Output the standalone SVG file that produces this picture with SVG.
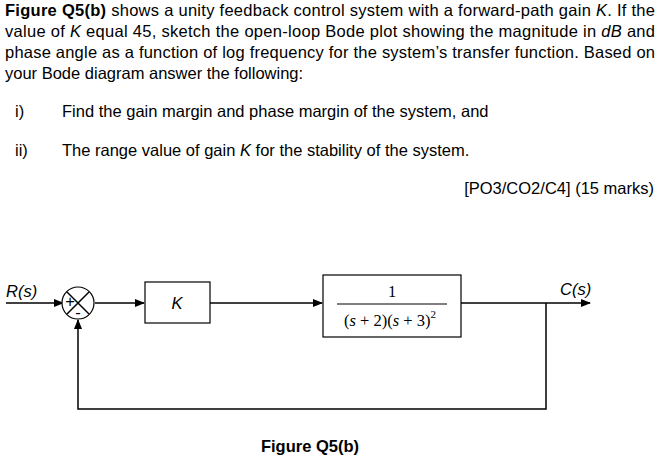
<svg xmlns="http://www.w3.org/2000/svg" width="660" height="461" viewBox="0 0 660 461">
<style>
text{font-family:"Liberation Sans",Arial,sans-serif;font-size:16.5px;fill:#000}
.ser{font-family:"Liberation Serif","Times New Roman",serif}
.ln{stroke:#000;stroke-width:1.5;fill:none}
.bx{stroke:#000;stroke-width:1.2;fill:#fff}
</style>
<defs><marker id="a" markerWidth="10" markerHeight="8" refX="9" refY="4" orient="auto" markerUnits="userSpaceOnUse"><path d="M0,0L10,4L0,8z" fill="#000"/></marker></defs>
<g id="question">
<text x="5" y="16" textLength="650" lengthAdjust="spacing"><tspan font-weight="bold">Figure Q5(b)</tspan> shows a unity feedback control system with a forward-path gain <tspan font-style="italic">K</tspan>. If the</text>
<text x="5" y="37" textLength="650" lengthAdjust="spacing">value of <tspan font-style="italic">K</tspan> equal 45, sketch the open-loop Bode plot showing the magnitude in <tspan font-style="italic">dB</tspan> and</text>
<text x="5" y="58" textLength="650" lengthAdjust="spacing">phase angle as a function of log frequency for the system’s transfer function. Based on</text>
<text x="5" y="79">your Bode diagram answer the following:</text>
<text x="15" y="117">i)</text>
<text x="62" y="117">Find the gain margin and phase margin of the system, and</text>
<text x="15" y="156">ii)</text>
<text x="62" y="156">The range value of gain <tspan font-style="italic">K</tspan> for the stability of the system.</text>
<text x="654" y="194" text-anchor="end">[PO3/CO2/C4] (15 marks)</text>
</g>
<g id="connectors">
<path class="ln" d="M6,303H63" marker-end="url(#a)"/>
<path class="ln" d="M95,303H144" marker-end="url(#a)"/>
<path class="ln" d="M210,303H322" marker-end="url(#a)"/>
<path class="ln" d="M461,303H590" marker-end="url(#a)"/>
<path class="ln" d="M546,303V409H78V320" marker-end="url(#a)"/>
</g>
<g id="labels">
<text x="6" y="297" font-style="italic">R(s)</text>
<text x="560" y="295" font-style="italic">C(s)</text>
</g>
<g id="sum">
<circle cx="78" cy="303" r="16" class="bx"/>
<path class="ln" d="M67,292L89,314M89,292L67,314" stroke-width="1.2"/>
<text x="70" y="307" font-size="11" text-anchor="middle">+</text>
<text x="78" y="318" font-size="11" text-anchor="middle">-</text>
</g>
<g id="gainK">
<rect x="145" y="282" width="65" height="41" class="bx"/>
<text x="177" y="309" text-anchor="middle" font-style="italic" font-size="18">K</text>
</g>
<g id="plant">
<rect x="323" y="275" width="138" height="62" class="bx"/>
<text x="392" y="297" class="ser" text-anchor="middle" font-size="16">1</text>
<line x1="337" y1="304" x2="447" y2="304" stroke="#000" stroke-width="1"/>
<text x="390" y="326" class="ser" text-anchor="middle" font-size="19">(<tspan font-style="italic">s</tspan> + 2)(<tspan font-style="italic">s</tspan> + 3)<tspan font-size="11" dy="-8">2</tspan></text>
</g>
<text x="310" y="452" text-anchor="middle" font-weight="bold">Figure Q5(b)</text>
</svg>
